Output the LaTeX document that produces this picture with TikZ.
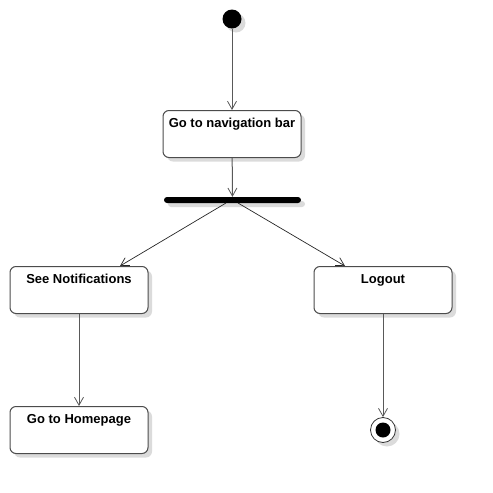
\documentclass[tikz,border=0pt]{standalone}
\usepackage{fontspec}
\setmainfont{Liberation Sans}
\usetikzlibrary{arrows.meta,shadows}
\begin{document}
\begin{tikzpicture}[x=1pt,y=-1pt,
  shade/.style={drop shadow={shadow xshift=4pt,shadow yshift=-4pt,fill=black!14,opacity=1}},
  actbox/.style={draw=black!70,line width=1pt,rounded corners=6pt,fill=white,shade,
     minimum width=138pt,inner xsep=2pt,inner ysep=3pt,text height=14pt,text depth=27pt,
     font=\bfseries\fontsize{13pt}{14pt}\selectfont,anchor=north},
  flow/.style={draw=black!65,line width=1pt,-{Straight Barb[length=8pt,width=9pt,line width=0.8pt]}},
  flowthin/.style={draw=black!85,line width=0.7pt,-{Straight Barb[length=8pt,width=9pt,line width=0.7pt]}},
  startst/.style={circle,fill=black,minimum size=19pt,inner sep=0pt,shade},
  endst/.style={circle,draw=black!80,fill=white,line width=0.8pt,minimum size=25pt,inner sep=0pt,shade},
  endin/.style={circle,fill=black,minimum size=15pt,inner sep=0pt},
  forkbar/.style={rectangle,fill=black,rounded corners=3pt,minimum width=137pt,minimum height=6pt,inner sep=0pt,shade}]
\useasboundingbox (0,0) rectangle (493,493);
\node[startst] (start) at (232,19) {};
\node[actbox] (nav) at (232,110) {Go to navigation bar};
\node[forkbar] (fork) at (232.5,200) {};
\node[actbox] (notif) at (79,266) {See Notifications};
\node[actbox] (logout) at (383,266) {Logout};
\node[actbox] (home) at (79,406) {Go to Homepage};
\node[endst] (end) at (383,430) {};
\node[endin] (endi) at (383,430) {};
\coordinate (fl) at (226,203);
\coordinate (fr) at (238,203);
\draw[flow] (start) -- (nav);
\draw[flow] (nav) -- (fork);
\draw[flowthin] (fl) -- (120,266);
\draw[flowthin] (fr) -- (345,266);
\draw[flow] (notif.south) -- (home.north);
\draw[flow] (logout.south) -- (end.north);
\end{tikzpicture}
\end{document}
